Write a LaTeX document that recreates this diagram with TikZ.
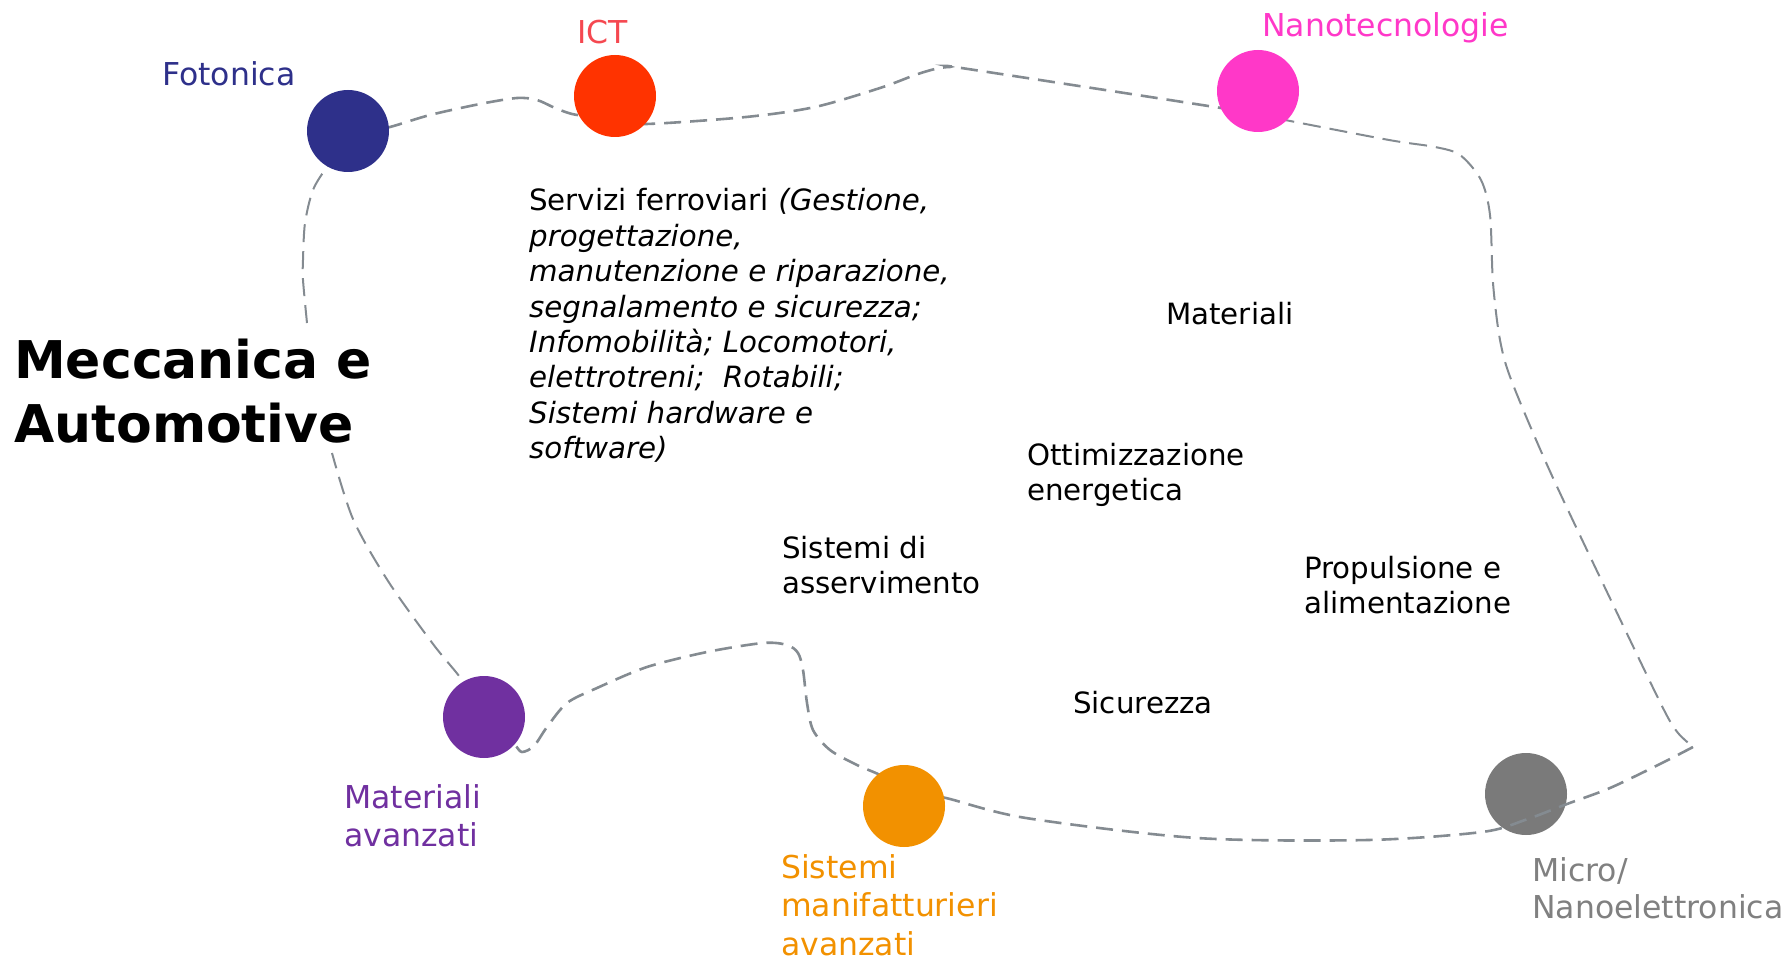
\documentclass[tikz,border=0pt]{standalone}
\usepackage{fontspec}
\setmainfont{DejaVu Sans}
\definecolor{fotblue}{RGB}{46,48,138}
\definecolor{ictred}{RGB}{255,51,0}
\definecolor{ictlabel}{RGB}{245,72,80}
\definecolor{nanomag}{RGB}{255,56,200}
\definecolor{matpurple}{RGB}{112,48,160}
\definecolor{sisorange}{RGB}{242,145,0}
\definecolor{microgray}{RGB}{122,122,122}
\definecolor{microlabel}{RGB}{128,128,128}
\definecolor{linegray}{RGB}{132,139,145}
\tikzset{
  bubble/.style={circle, minimum size=82pt, inner sep=0pt, draw=none, fill=#1},
  lab/.style={anchor=base west, inner sep=0pt, text=#1, font=\fontsize{31.5}{38.5}\selectfont},
  txt/.style={anchor=base west, inner sep=0pt, text=black, font=\fontsize{29.3}{35.4}\selectfont},
  loopthick/.style={draw=linegray, line width=2.6pt, dash pattern=on 17pt off 9pt},
  loopthin/.style={draw=linegray, line width=2pt, dash pattern=on 18pt off 9pt},
}
\begin{document}
\begin{tikzpicture}[x=1pt,y=-1pt]
\useasboundingbox (0,0) rectangle (1787,957);
% circle under the line
\node[bubble=microgray] (micro) at (1526,794) {};
% dashed loop
\draw[loopthick] plot[smooth, tension=0.5] coordinates {(360,133) (390,127) (430,115) (480,104) (517,98) (537,100) (555,108) (572,114) (592,117) (615,120) (646,124) (746,117) (815,107) (880,88) (915,75) (935,69) (950,67) (968,69) (1221,108) (1258,115)};
\draw[loopthin] plot[smooth, tension=0.5] coordinates {(1250,113) (1285,120) (1389,140) (1435,147) (1460,155) (1481,180) (1490,215) (1493,283) (1500,340) (1512,382) (1553,478) (1630,640) (1665,712) (1678,733) (1693,747)};
\draw[loopthick] plot[smooth, tension=0.5] coordinates {(1693,747) (1660,764) (1610,788) (1567,804) (1525,820) (1482,832) (1368,840) (1197,838) (1026,818) (946,798) (905,790)};
\draw[loopthick] plot[smooth, tension=0.5] coordinates {(905,790) (880,775) (857,765) (830,750) (813,730) (807,703) (803,670) (798,653) (787,645) (763,643) (707,652) (647,667) (597,688) (567,703) (547,727) (534,746) (522,752) (515,745) (500,730)};
\draw[loopthin] plot[smooth, tension=0.5] coordinates {(470,700) (462,680) (433,644) (388,581) (353,519) (332,453)};
\draw[loopthin] plot[smooth, tension=0.5] coordinates {(307,323) (303,280) (303,260) (305,223) (313,190) (327,167) (348,140)};
% circles over the line
\node[bubble=fotblue] (fot) at (348,131) {};
\node[bubble=ictred] (ict) at (615,96) {};
\node[bubble=nanomag] (nano) at (1258,91) {};
\node[bubble=matpurple] (mat) at (484,717) {};
\node[bubble=sisorange] (sis) at (904,806) {};
% title
\node[anchor=base west, inner sep=0pt, font=\fontsize{52}{64}\selectfont\bfseries] (title) at (14,378)
  {\begin{tabular}[t]{@{}l@{}}Meccanica e\\Automotive\end{tabular}};
% coloured labels
\node[lab=fotblue] (lfot) at (162,86) {Fotonica};
\node[lab=ictlabel] (lict) at (577,44) {ICT};
\node[lab=nanomag] (lnano) at (1262,37) {Nanotecnologie};
\node[lab=matpurple] (lmat) at (344,808) {\begin{tabular}[t]{@{}l@{}}Materiali\\avanzati\end{tabular}};
\node[lab=sisorange] (lsis) at (781,878) {\begin{tabular}[t]{@{}l@{}}Sistemi\\manifatturieri\\avanzati\end{tabular}};
\node[lab=microlabel, font=\fontsize{31.5}{37.6}\selectfont] (lmicro) at (1532,881) {\begin{tabular}[t]{@{}l@{}}Micro/\\Nanoelettronica\end{tabular}};
% black texts
\node[txt] (servizi) at (529,211) {\begin{tabular}[t]{@{}l@{}}Servizi ferroviari \textit{(Gestione,}\\
\textit{progettazione,}\\
\textit{manutenzione e riparazione,}\\
\textit{segnalamento e sicurezza;}\\
\textit{Infomobilità; Locomotori,}\\
\textit{elettrotreni;\ \ Rotabili;}\\
\textit{Sistemi hardware e}\\
\textit{software)}\end{tabular}};
\node[txt] (materiali) at (1166,325) {Materiali};
\node[txt] (ottim) at (1027,465) {\begin{tabular}[t]{@{}l@{}}Ottimizzazione\\energetica\end{tabular}};
\node[txt] (asserv) at (782,558) {\begin{tabular}[t]{@{}l@{}}Sistemi di\\asservimento\end{tabular}};
\node[txt] (propuls) at (1304,578) {\begin{tabular}[t]{@{}l@{}}Propulsione e\\alimentazione\end{tabular}};
\node[txt] (sicur) at (1073,713) {Sicurezza};
\end{tikzpicture}
\end{document}
